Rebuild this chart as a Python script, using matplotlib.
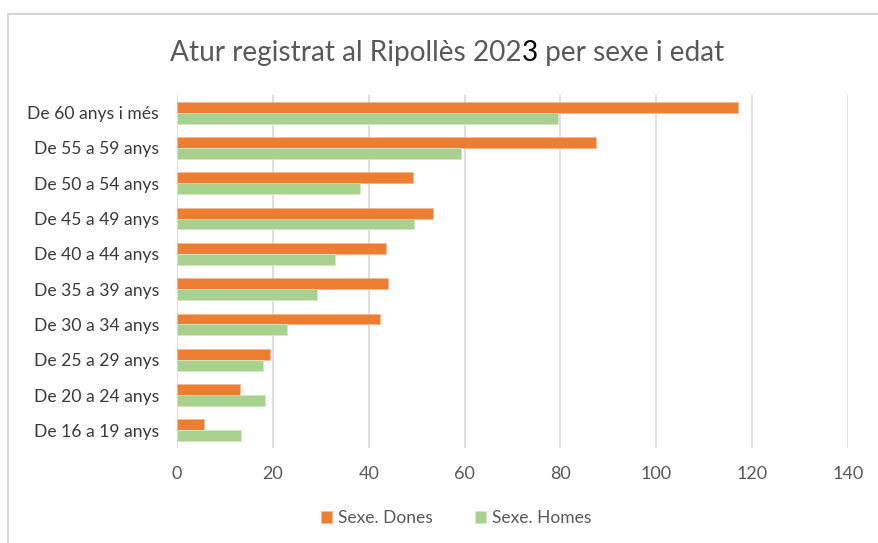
import matplotlib
matplotlib.use("Agg")
import matplotlib.pyplot as plt
from matplotlib.patches import Rectangle
import numpy as np

plt.rcParams["font.family"] = ["Lato", "DejaVu Sans"]

TEXT_COLOR = "#595959"
GRID_COLOR = "#d9d9d9"
ORANGE = "#ED7D31"
GREEN = "#A9D18E"

# data, top to bottom as in the chart
ages = ["De 60 anys i més", "De 55 a 59 anys", "De 50 a 54 anys", "De 45 a 49 anys",
        "De 40 a 44 anys", "De 35 a 39 anys", "De 30 a 34 anys", "De 25 a 29 anys",
        "De 20 a 24 anys", "De 16 a 19 anys"]
dones = [117.1, 87.4, 49.3, 53.5, 43.6, 44.1, 42.3, 19.4, 13.2, 5.6]
homes = [79.5, 59.3, 38.1, 49.4, 32.9, 29.2, 22.9, 18.0, 18.3, 13.4]
xticks = [0, 20, 40, 60, 80, 100, 120, 140]

fig = plt.figure(figsize=(8.79, 5.43), dpi=100)
fig.patch.set_facecolor("white")

# outer chart frame (cut at right/bottom like the screenshot)
fig.patches.append(Rectangle((8 / 879, -0.05), 1.2, 1 - 14 / 543 + 0.05,
                             transform=fig.transFigure, fill=False,
                             edgecolor="#d0d0d0", linewidth=1.2))

ax = fig.add_axes([177 / 879, 1 - 448 / 543, (848 - 177) / 879, (448 - 95) / 543])
y = np.arange(len(ages))
h = 0.31
ax.barh(y - h / 2, dones, height=h, color=ORANGE, edgecolor="#f6b995", linewidth=0.6,
        label="Sexe. Dones", zorder=3)
ax.barh(y + h / 2, homes, height=h, color=GREEN, edgecolor="#d4e8c6", linewidth=0.6,
        label="Sexe. Homes", zorder=3)

ax.set_xlim(0, 140)
ax.set_ylim(len(ages) - 0.5, -0.5)
ax.set_xticks(xticks)
ax.set_xticklabels([str(t) for t in xticks], fontsize=13, color=TEXT_COLOR)
ax.set_yticks(y)
ax.set_yticklabels(ages, fontsize=12.6, color="#3a3a3a")
ax.tick_params(length=0)
ax.tick_params(axis="x", pad=13)
ax.tick_params(axis="y", pad=13)
ax.grid(axis="x", color=GRID_COLOR, linewidth=1.2, zorder=0)
for s in ax.spines.values():
    s.set_visible(False)

# title, the "3" is black in the original
TITLE_SIZE = 20.2
base_y = 1 - 61 / 543
t1 = fig.text(170 / 879, base_y, "Atur registrat al Ripollès 202", fontsize=TITLE_SIZE,
              color=TEXT_COLOR, ha="left", va="baseline")
fig.canvas.draw()
r = fig.canvas.get_renderer()
bb = t1.get_window_extent(r)
t2 = fig.text(bb.x1 / fig.bbox.width, base_y, "3", fontsize=TITLE_SIZE, color="black",
              ha="left", va="baseline")
fig.canvas.draw()
bb2 = t2.get_window_extent(r)
fig.text(bb2.x1 / fig.bbox.width, base_y, " per sexe i edat", fontsize=TITLE_SIZE,
         color=TEXT_COLOR, ha="left", va="baseline")

leg = fig.legend(loc="center", bbox_to_anchor=(456 / 879, 1 - 518 / 543), ncol=2,
                 frameon=False, fontsize=12.5, handlelength=0.65, handleheight=0.65,
                 handletextpad=0.35, columnspacing=2.4)
for txt in leg.get_texts():
    txt.set_color(TEXT_COLOR)

fig.savefig("out.png", dpi=100, facecolor="white")
